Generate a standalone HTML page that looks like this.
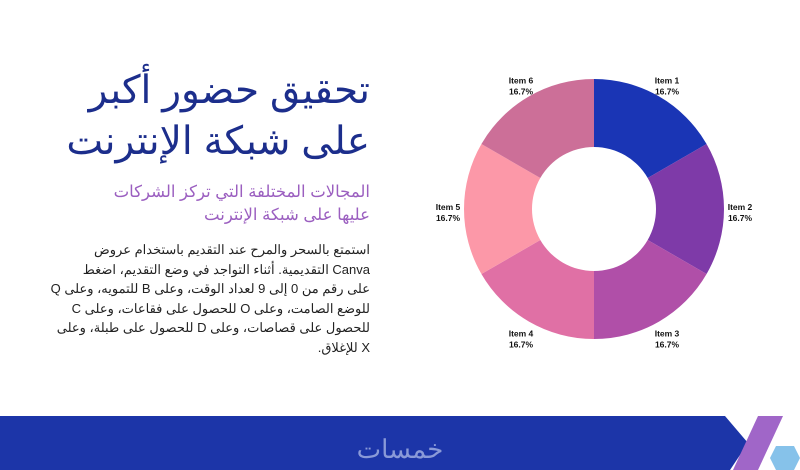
<!DOCTYPE html>
<html><head><meta charset="utf-8"><style>
body{margin:0;width:800px;height:470px;overflow:hidden;background:#fff;position:relative;font-family:"Liberation Sans","Noto Sans CJK SC",sans-serif}
.t{position:absolute;right:430px;direction:rtl;text-align:right;white-space:nowrap}
</style></head><body>
<div class="t" style="top:65px;font-size:39px;line-height:51px;color:#1c2e8c">تحقيق حضور أكبر<br>على شبكة الإنترنت</div>
<div class="t" style="top:181px;font-size:16.5px;line-height:23px;color:#9b5fc0">المجالات المختلفة التي تركز الشركات<br>عليها على شبكة الإنترنت</div>
<div class="t" style="top:240px;font-size:13px;line-height:19.5px;color:#222">استمتع بالسحر والمرح عند التقديم باستخدام عروض<br>Canva التقديمية. أثناء التواجد في وضع التقديم، اضغط<br>على رقم من 0 إلى 9 لعداد الوقت، وعلى B للتمويه، وعلى Q<br>للوضع الصامت، وعلى O للحصول على فقاعات، وعلى C<br>للحصول على قصاصات، وعلى D للحصول على طبلة، وعلى<br>X للإغلاق.</div>
<svg id="chart" width="800" height="470" style="position:absolute;left:0;top:0">
<polygon points="0,416 725,416 748,443 730,470 0,470" fill="#1c35a8"/>
<polygon points="758,416 783,416 758,470 733,470" fill="#a066c8"/>
<polygon points="776,446 794,446 800,458 794,470 776,470 770,458" fill="#86c2ea"/>
<text x="400" y="458" text-anchor="middle" font-size="26" fill="#8a9ad8" font-family="Liberation Sans, sans-serif">خمسات</text>
</svg>
<script>
const categories=["Item 1","Item 2","Item 3","Item 4","Item 5","Item 6"];
const values=[1,1,1,1,1,1];
const pctLabels=["16.7%","16.7%","16.7%","16.7%","16.7%","16.7%"];
const colors=["#1a35b5","#7e3aa8","#b04fa8","#e070a5","#fc98a8","#cc6f98"];
const svg=document.getElementById('chart');const NS="http://www.w3.org/2000/svg";
const cx=594,cy=209,R=130,r=62,LR=146;
const total=values.reduce((a,b)=>a+b,0);
let a0=-Math.PI/2;
values.forEach((v,i)=>{
 const a1=a0+v/total*2*Math.PI;const big=(a1-a0)>Math.PI?1:0;
 const p=(rad,a)=>[cx+rad*Math.cos(a),cy+rad*Math.sin(a)];
 const [x0,y0]=p(R,a0),[x1,y1]=p(R,a1),[x2,y2]=p(r,a1),[x3,y3]=p(r,a0);
 const path=document.createElementNS(NS,'path');
 path.setAttribute('d',`M${x0},${y0}A${R},${R} 0 ${big} 1 ${x1},${y1}L${x2},${y2}A${r},${r} 0 ${big} 0 ${x3},${y3}Z`);
 path.setAttribute('fill',colors[i]);
 
 
 svg.appendChild(path);
 const am=(a0+a1)/2;const lx=cx+LR*Math.cos(am),ly=cy+LR*Math.sin(am);
 const t=document.createElementNS(NS,'text');
 t.setAttribute('x',lx);t.setAttribute('y',ly+1);t.setAttribute('text-anchor','middle');
 t.setAttribute('font-size','8.5');t.setAttribute('font-weight','bold');t.setAttribute('fill','#111');
 t.setAttribute('font-family','Liberation Sans, sans-serif');
 
 
 const s1=document.createElementNS(NS,'tspan');s1.setAttribute('x',lx);s1.textContent=categories[i];
 const s2=document.createElementNS(NS,'tspan');s2.setAttribute('x',lx);s2.setAttribute('dy','11');s2.textContent=pctLabels[i];
 t.appendChild(s1);t.appendChild(s2);svg.appendChild(t);
 a0=a1;
});
</script>
</body></html>
